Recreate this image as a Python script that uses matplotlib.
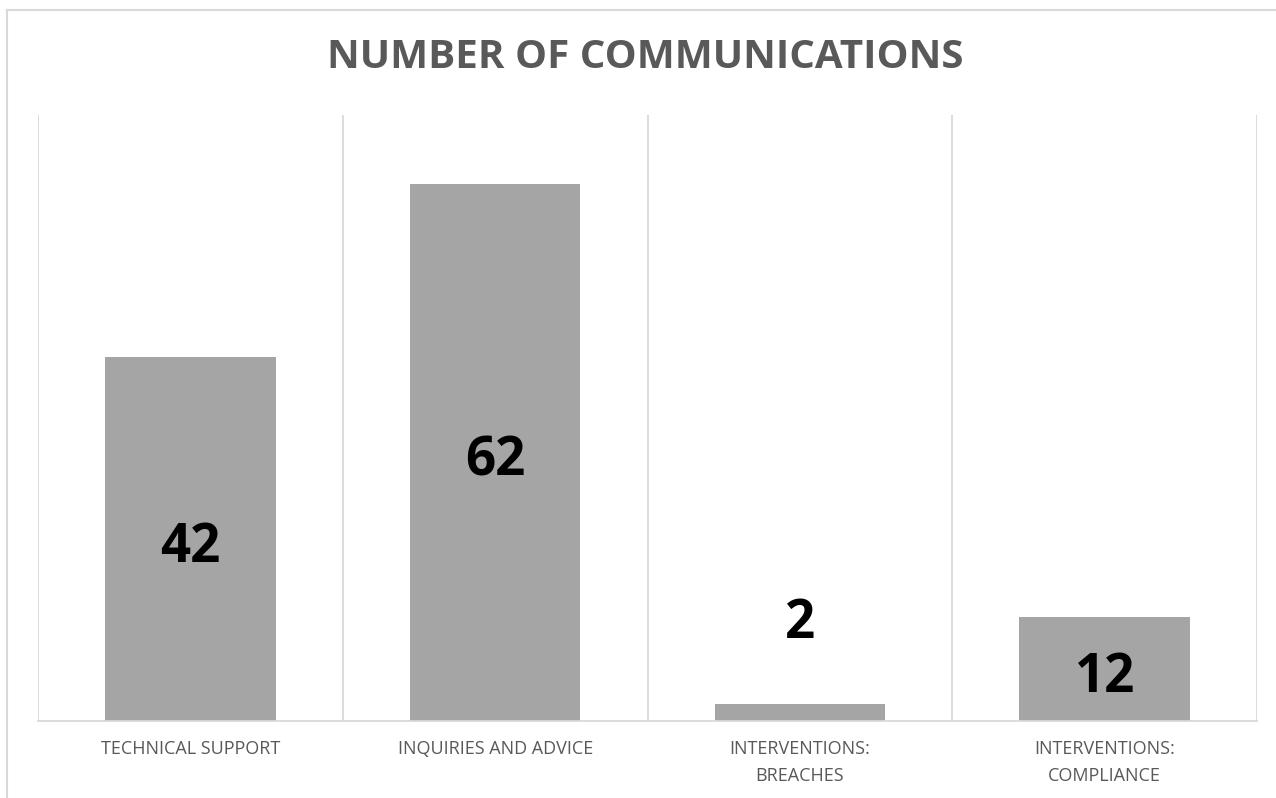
import numpy as np
import matplotlib.pyplot as plt
from matplotlib.lines import Line2D

categorias = ["TECHNICAL SUPPORT", "INQUIRIES AND ADVICE",
              "INTERVENTIONS:\nBREACHES", "INTERVENTIONS:\nCOMPLIANCE"]
valores = [42, 62, 2, 12]

cinza_txt = "#595959"
cinza_barra = "#A5A5A5"
cinza_linha = "#D9D9D9"

plt.rcParams['font.family'] = ['Open Sans', 'DejaVu Sans']

fig = plt.figure(figsize=(12.76, 7.98), dpi=100)
ax = fig.add_axes([38/1276, 1-721/798, (1257-38)/1276, (721-115)/798])

x = np.arange(len(categorias))
barras = ax.bar(x, valores, width=0.56, color=cinza_barra, zorder=2)

# rótulos de dados: no centro da barra, ou acima se a barra for baixa
for b, v in zip(barras, valores):
	cx = b.get_x() + b.get_width()/2
	if v < 5:
		ax.annotate(str(v), (cx, v), xytext=(0, 62), textcoords="offset points",
			ha="center", va="center_baseline", fontsize=38, fontweight="bold", color="black")
	else:
		ax.annotate(str(v), (cx, v/2), xytext=(0, -2), textcoords="offset points",
			ha="center", va="center_baseline", fontsize=38, fontweight="bold", color="black")

ax.set_xlim(-0.5, len(categorias)-0.5)
ax.set_ylim(0, 70)
for xv in np.arange(-0.5, len(categorias), 1.0):
	ax.axvline(xv, color=cinza_linha, lw=1.3, zorder=1)

for s in ["top", "right", "left"]:
	ax.spines[s].set_visible(False)
ax.spines["bottom"].set_color(cinza_linha)
ax.spines["bottom"].set_linewidth(1.3)

ax.set_yticks([])
ax.set_xticks(x)
ax.set_xticklabels(categorias, fontsize=13, color=cinza_txt, linespacing=1.6)
ax.tick_params(axis="x", length=0, pad=14)

fig.text(0.506, 1-57/798, "NUMBER OF COMMUNICATIONS", ha="center", va="center",
	fontsize=29, fontweight="bold", color=cinza_txt)

# moldura do gráfico (apenas topo e esquerda aparecem no recorte)
fig.add_artist(Line2D([7/1276, 1.0], [1-10/798, 1-10/798], color=cinza_linha, lw=1.5))
fig.add_artist(Line2D([7/1276, 7/1276], [0.0, 1-10/798], color=cinza_linha, lw=1.5))

fig.savefig("out.png", dpi=100)
